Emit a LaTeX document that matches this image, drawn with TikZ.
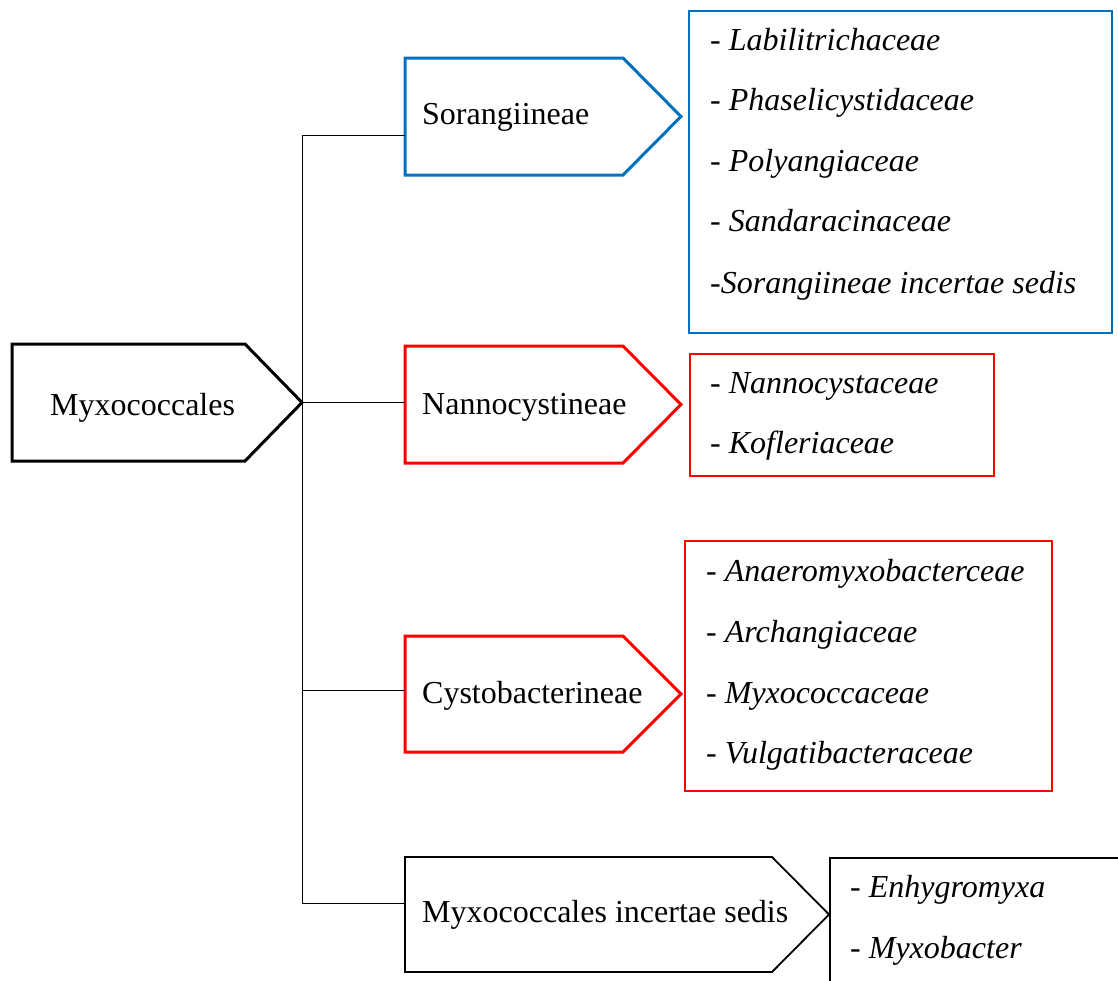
\documentclass[tikz,border=0pt]{standalone}
\usepackage{fontspec}
\setmainfont{Liberation Serif}
\definecolor{subblue}{RGB}{0,112,192}
\definecolor{subred}{RGB}{255,0,0}

\begin{document}
\begin{tikzpicture}[x=1pt, y=-1pt, font=\fontsize{32}{38}\selectfont,
  body/.style={rectangle, anchor=north west, inner sep=0pt, outer sep=0pt},
  tabtext/.style={anchor=west, inner sep=0pt},
  tabline/.style={line width=3pt, line join=miter},
  listbox/.style={draw, rectangle, line width=1.8pt, anchor=north west, inner sep=0pt},
  item/.style={anchor=base west, inner sep=0pt},
  link/.style={line width=1pt}]
\useasboundingbox (0,0) rectangle (1118,980);
\clip (0,0) rectangle (1118,980);

% order
\node[body, minimum width=233pt, minimum height=117pt] (myx) at (12,344) {};
\node[tabtext] (myx-text) at ([xshift=38pt, yshift=-5pt]myx.west) {Myxococcales};
\draw[tabline] (myx.north west) -- (myx.north east) -- ([xshift=57pt]myx.east) coordinate (myx-tip) -- (myx.south east) -- (myx.south west) -- cycle;

% suborders
\node[body, minimum width=218pt, minimum height=117pt] (sor) at (405,58) {};
\node[tabtext] (sor-text) at ([xshift=17pt, yshift=-1pt]sor.west) {Sorangiineae};
\draw[tabline, subblue] (sor.north west) -- (sor.north east) -- ([xshift=58pt]sor.east) -- (sor.south east) -- (sor.south west) -- cycle;

\node[body, minimum width=218pt, minimum height=117pt] (nan) at (405,346) {};
\node[tabtext] (nan-text) at ([xshift=17pt, yshift=-3pt]nan.west) {Nannocystineae};
\draw[tabline, subred] (nan.north west) -- (nan.north east) -- ([xshift=58pt]nan.east) -- (nan.south east) -- (nan.south west) -- cycle;

\node[body, minimum width=218pt, minimum height=116pt] (cys) at (405,636) {};
\node[tabtext] (cys-text) at ([xshift=17pt, yshift=-2pt]cys.west) {Cystobacterineae};
\draw[tabline, subred] (cys.north west) -- (cys.north east) -- ([xshift=58pt]cys.east) -- (cys.south east) -- (cys.south west) -- cycle;

\node[body, minimum width=367pt, minimum height=115pt] (inc) at (405,857) {};
\node[tabtext] (inc-text) at ([xshift=17pt]inc.west) {Myxococcales incertae sedis};
\draw[tabline, line width=1.8pt] (inc.north west) -- (inc.north east) -- ([xshift=57pt]inc.east) -- (inc.south east) -- (inc.south west) -- cycle;

% families
\node[listbox, subblue, minimum width=423pt, minimum height=322pt] (sor-list) at (688,10) {};
\node[item] (sor-1) at (710,50) {- \textit{Labilitrichaceae}};
\node[item] (sor-2) at (710,110.5) {- \textit{Phaselicystidaceae}};
\node[item] (sor-3) at (710,171) {- \textit{Polyangiaceae}};
\node[item] (sor-4) at (710,231.5) {- \textit{Sandaracinaceae}};
\node[item] (sor-5) at (710,293) {-\textit{Sorangiineae incertae sedis}};

\node[listbox, subred, minimum width=304pt, minimum height=122pt] (nan-list) at (689,353) {};
\node[item] (nan-1) at (710,393) {- \textit{Nannocystaceae}};
\node[item] (nan-2) at (710,453) {- \textit{Kofleriaceae}};

\node[listbox, subred, minimum width=367pt, minimum height=250pt] (cys-list) at (684,540) {};
\node[item] (cys-1) at (706,581) {- \textit{Anaeromyxobacterceae}};
\node[item] (cys-2) at (706,642) {- \textit{Archangiaceae}};
\node[item] (cys-3) at (706,703) {- \textit{Myxococcaceae}};
\node[item] (cys-4) at (706,763) {- \textit{Vulgatibacteraceae}};

\node[listbox, minimum width=310pt, minimum height=140pt] (inc-list) at (829,857) {};
\node[item] (inc-1) at (850,897) {- \textit{Enhygromyxa}};
\node[item] (inc-2) at (850,958) {- \textit{Myxobacter}};

% tree lines
\coordinate (spine-top) at (302,135);
\coordinate (spine-cys) at (302,690);
\coordinate (spine-bot) at (302,903);
\draw[link] (spine-top) -- (spine-bot);
\draw[link] (spine-top) -- (spine-top -| sor.west);
\draw[link] (myx-tip) -- (myx-tip -| nan.west);
\draw[link] (spine-cys) -- (spine-cys -| cys.west);
\draw[link] (spine-bot) -- (spine-bot -| inc.west);
\end{tikzpicture}
\end{document}
